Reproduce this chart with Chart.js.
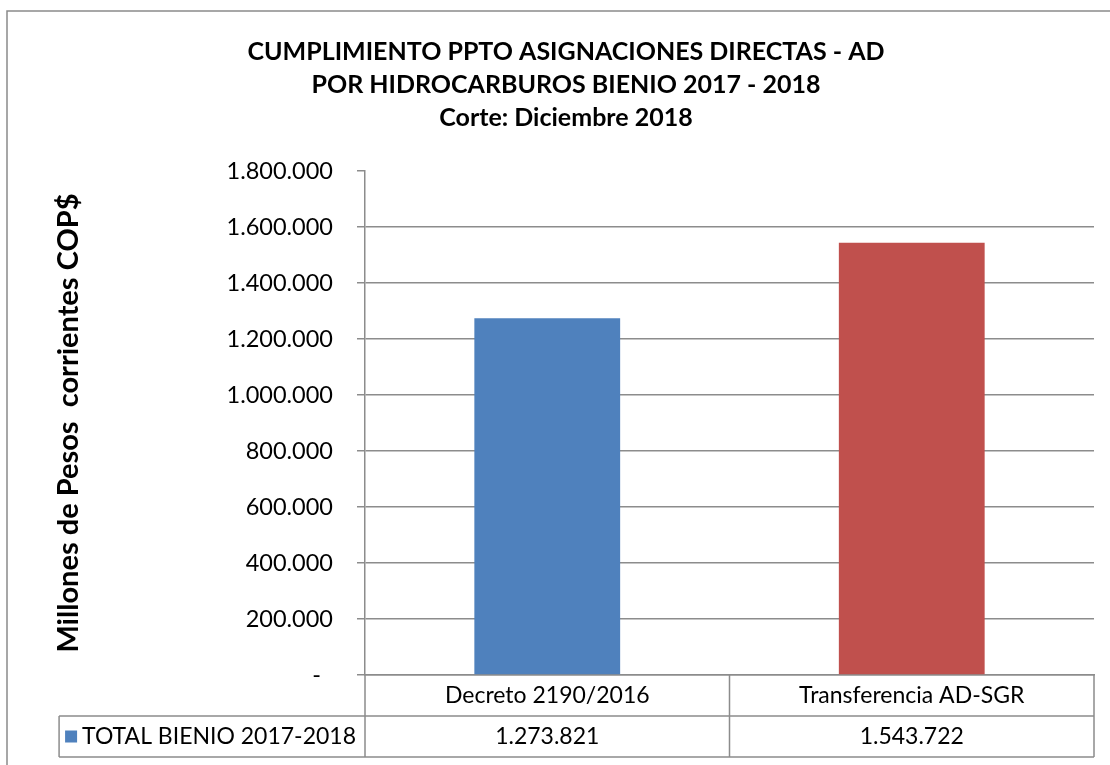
<!DOCTYPE html>
<html>
<head>
<meta charset="utf-8">
<script src="https://cdn.jsdelivr.net/npm/chart.js@4.4.1/dist/chart.umd.min.js"></script>
<style>
  html, body { margin: 0; padding: 0; background: #fff; }
  #wrap { width: 1110px; height: 765px; position: relative; }
</style>
</head>
<body>
<div id="wrap"><canvas id="c" width="1110" height="765"></canvas></div>
<script>
const categories = ['Decreto 2190/2016', 'Transferencia AD-SGR'];
const seriesName = 'TOTAL BIENIO 2017-2018';
const values = [1273821, 1543722];
const barColors = ['#4F81BD', '#C0504D'];
const titleLines = ['CUMPLIMIENTO PPTO ASIGNACIONES DIRECTAS - AD', 'POR HIDROCARBUROS BIENIO 2017 - 2018', 'Corte: Diciembre 2018'];
const yAxisTitle = 'Millones de Pesos  corrientes COP$';
const yMin = 0, yMax = 1800000, yStep = 200000;

const FONT = 'Lato, "Open Sans", sans-serif';
const GRID = '#8c8c8c';
const TXT = 23;

function fmt(v) {
  if (v === 0) return '-  ';
  const s = Math.round(v).toString();
  return s.replace(/\B(?=(\d{3})+(?!\d))/g, '.');
}

const framePlugin = {
  id: 'frame',
  beforeDraw(chart) {
    const ctx = chart.ctx;
    ctx.save();
    ctx.strokeStyle = '#8a8a8a';
    ctx.lineWidth = 1.5;
    ctx.beginPath();
    ctx.moveTo(7, 765);
    ctx.lineTo(7, 11);
    ctx.lineTo(1110, 11);
    ctx.stroke();
    ctx.restore();
  }
};

const tablePlugin = {
  id: 'datatable',
  afterDraw(chart) {
    const ctx = chart.ctx;
    const area = chart.chartArea;
    const xs = chart.scales.x;
    const top = area.bottom;
    const rowH = 41;
    const r1 = top + rowH, r2 = top + 2 * rowH;
    const half = (xs.getPixelForValue(1) - xs.getPixelForValue(0)) / 2;

    ctx.save();
    ctx.font = TXT + 'px ' + FONT;
    const textRight = area.left - 9;
    const textW = ctx.measureText(seriesName).width;
    const textLeft = textRight - textW;
    const keySize = 12;
    const keyLeft = textLeft - keySize - 5;
    const leftCell = keyLeft - 6;

    ctx.strokeStyle = GRID;
    ctx.lineWidth = 1.5;
    ctx.beginPath();
    ctx.moveTo(leftCell, r1); ctx.lineTo(area.right, r1);
    ctx.moveTo(leftCell, r2); ctx.lineTo(area.right, r2);
    ctx.moveTo(area.left, top); ctx.lineTo(area.left, r2);
    for (let i = 0; i < categories.length; i++) {
      const b = xs.getPixelForValue(i) + half;
      ctx.moveTo(b, top); ctx.lineTo(b, r2);
    }
    ctx.moveTo(leftCell, r1); ctx.lineTo(leftCell, r2);
    ctx.stroke();

    ctx.fillStyle = '#000';
    ctx.textAlign = 'center';
    ctx.textBaseline = 'middle';
    const midY = (r1 + r2) / 2;
    values.forEach((v, i) => {
      ctx.fillText(fmt(v), xs.getPixelForValue(i), midY);
    });
    ctx.fillStyle = barColors[0];
    ctx.fillRect(keyLeft, midY - keySize / 2, keySize, keySize);
    ctx.fillStyle = '#000';
    ctx.textAlign = 'left';
    ctx.fillText(seriesName, textLeft, midY);
    ctx.restore();
  }
};

new Chart(document.getElementById('c'), {
  type: 'bar',
  data: {
    labels: categories,
    datasets: [{
      label: seriesName,
      data: values,
      backgroundColor: barColors,
      borderWidth: 0,
      categoryPercentage: 1.0,
      barPercentage: 0.4
    }]
  },
  options: {
    responsive: false,
    animation: false,
    devicePixelRatio: 1,
    layout: { padding: { left: 38, right: 16, top: 0, bottom: 0 } },
    plugins: {
      legend: { display: false },
      tooltip: { enabled: false },
      title: {
        display: true,
        text: titleLines,
        color: '#000',
        font: { family: FONT, size: 25, weight: 'bold', lineHeight: '33px' },
        padding: { top: 35, bottom: 37 }
      }
    },
    scales: {
      x: {
        position: 'bottom',
        grid: { display: false, drawTicks: false },
        border: { display: true, color: GRID, width: 1.5 },
        ticks: { color: '#000', font: { family: FONT, size: TXT }, padding: 7, maxRotation: 0 },
        afterFit(scale) { scale.height = 90; }
      },
      y: {
        min: yMin, max: yMax,
        position: 'left',
        border: { display: true, color: GRID, width: 1.5 },
        grid: {
          color: (c) => (c.tick && c.tick.value === yMax) ? 'rgba(0,0,0,0)' : GRID,
          tickColor: GRID,
          lineWidth: 1.5,
          drawTicks: true,
          tickLength: 8
        },
        ticks: {
          stepSize: yStep,
          color: '#000',
          font: { family: FONT, size: 23.5 },
          padding: 24,
          callback: (v) => fmt(v)
        },
        title: {
          display: true,
          text: yAxisTitle,
          color: '#000',
          font: { family: FONT, size: 29, weight: 'bold' },
          padding: { top: 13, bottom: 0 }
        },
        afterFit(scale) { scale.width = 365 - 38; }
      }
    }
  },
  plugins: [framePlugin, tablePlugin]
});
</script>
</body>
</html>
